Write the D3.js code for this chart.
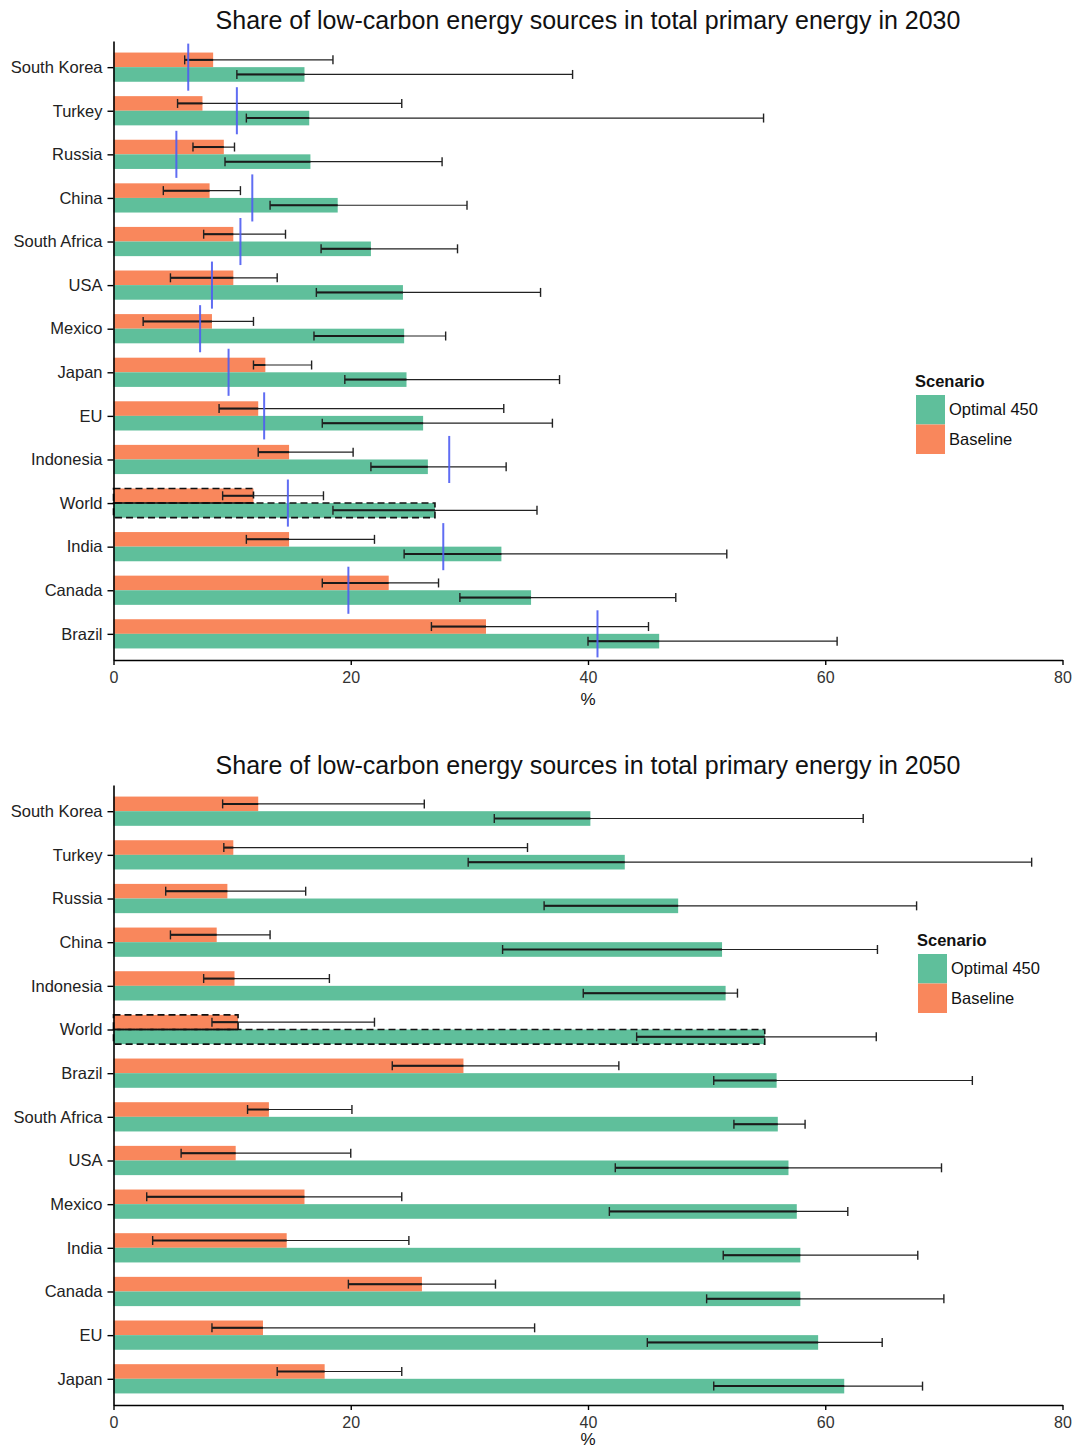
<!DOCTYPE html>
<html>
<head>
<meta charset="utf-8">
<script src="https://cdn.jsdelivr.net/npm/d3@7"></script>
<style>
  html, body { margin: 0; padding: 0; background: #fff; }
  svg { display: block; font-family: "Liberation Sans", Arial, Helvetica, sans-serif; }
</style>
</head>
<body>
<svg id="chart" width="1075" height="1451"></svg>
<script>
// ---------------- DATA ----------------
const scenarios = ["Optimal 450", "Baseline"];
const xTicks = [0, 20, 40, 60, 80];

// 2030
const countries2030 = ["South Korea","Turkey","Russia","China","South Africa","USA","Mexico","Japan","EU","Indonesia","World","India","Canada","Brazil"];
const baseline2030     = [8.4, 7.5, 9.3, 8.1, 10.1, 10.1, 8.3, 12.8, 12.2, 14.8, 11.8, 14.8, 23.2, 31.4];
const baselineLow2030  = [6.0, 5.4, 6.7, 4.2, 7.6, 4.8, 2.5, 11.8, 8.9, 12.2, 9.2, 11.2, 17.6, 26.8];
const baselineHigh2030 = [18.5, 24.3, 10.2, 10.7, 14.5, 13.8, 11.8, 16.7, 32.9, 20.2, 17.7, 22.0, 27.4, 45.1];
const optimal2030      = [16.1, 16.5, 16.6, 18.9, 21.7, 24.4, 24.5, 24.7, 26.1, 26.5, 27.1, 32.7, 35.2, 46.0];
const optimalLow2030   = [10.4, 11.2, 9.4, 13.2, 17.5, 17.1, 16.9, 19.5, 17.6, 21.7, 18.5, 24.5, 29.2, 40.0];
const optimalHigh2030  = [38.7, 54.8, 27.7, 29.8, 29.0, 36.0, 28.0, 37.6, 37.0, 33.1, 35.7, 51.7, 47.4, 61.0];
const marker2030       = [6.3, 10.4, 5.3, 11.7, 10.7, 8.3, 7.3, 9.7, 12.7, 28.3, 14.7, 27.8, 19.8, 40.8];

// 2050
const countries2050 = ["South Korea","Turkey","Russia","China","Indonesia","World","Brazil","South Africa","USA","Mexico","India","Canada","EU","Japan"];
const baseline2050     = [12.2, 10.1, 9.6, 8.7, 10.2, 10.5, 29.5, 13.1, 10.3, 16.1, 14.6, 26.0, 12.6, 17.8];
const baselineLow2050  = [9.2, 9.3, 4.4, 4.8, 7.6, 8.3, 23.5, 11.3, 5.7, 2.8, 3.3, 19.8, 8.3, 13.8];
const baselineHigh2050 = [26.2, 34.9, 16.2, 13.2, 18.2, 22.0, 42.6, 20.1, 20.0, 24.3, 24.9, 32.2, 35.5, 24.3];
const optimal2050      = [40.2, 43.1, 47.6, 51.3, 51.6, 54.9, 55.9, 56.0, 56.9, 57.6, 57.9, 57.9, 59.4, 61.6];
const optimalLow2050   = [32.1, 29.9, 36.3, 32.8, 39.6, 44.1, 50.6, 52.3, 42.3, 41.8, 51.4, 50.0, 45.0, 50.6];
const optimalHigh2050  = [63.2, 77.4, 67.7, 64.4, 52.6, 64.3, 72.4, 58.3, 69.8, 61.9, 67.8, 70.0, 64.8, 68.2];

// ---------------- STYLE / LAYOUT ----------------
const colors = { "Optimal 450": "#5fbf9b", "Baseline": "#f9875c" };
const FONT = "'Liberation Sans', Arial, Helvetica, sans-serif";
const svg = d3.select("#chart");
const x = d3.scaleLinear().domain([0, 80]).range([113.5, 1062.5]);
const color = d3.scaleOrdinal().domain(scenarios).range([colors["Optimal 450"], colors["Baseline"]]);

function buildRows(countries, b, bl, bh, o, ol, oh, m) {
  return countries.map((c, i) => ({
    country: c,
    marker: m ? m[i] : null,
    bars: [
      { scen: "Baseline", value: b[i], low: bl[i], high: bh[i] },
      { scen: "Optimal 450", value: o[i], low: ol[i], high: oh[i] }
    ]
  }));
}

const panels = [
  {
    title: "Share of low-carbon energy sources in total primary energy in 2030",
    titleY: 29, top: 41, bottom: 660, xLabelY: 705, legendX: 915, legendY: 387,
    rows: buildRows(countries2030, baseline2030, baselineLow2030, baselineHigh2030,
                    optimal2030, optimalLow2030, optimalHigh2030, marker2030)
  },
  {
    title: "Share of low-carbon energy sources in total primary energy in 2050",
    titleY: 774, top: 785, bottom: 1405, xLabelY: 1445, legendX: 917, legendY: 946,
    rows: buildRows(countries2050, baseline2050, baselineLow2050, baselineHigh2050,
                    optimal2050, optimalLow2050, optimalHigh2050, null)
  }
];

panels.forEach(p => {
  const g = svg.append("g");
  const y = d3.scalePoint().domain(p.rows.map(r => r.country)).range([p.top, p.bottom]).padding(0.6);
  const step = y.step();
  const sub = d3.scaleBand().domain(["Baseline", "Optimal 450"]).range([-step * 0.335, step * 0.335]);
  const bh = sub.bandwidth();

  const rowG = g.selectAll("g.row").data(p.rows).join("g")
    .attr("class", "row")
    .attr("transform", d => `translate(0,${y(d.country)})`);

  // Bars
  rowG.selectAll("rect.bar").data(d => d.bars).join("rect")
    .attr("class", "bar")
    .attr("x", x(0))
    .attr("y", d => sub(d.scen))
    .attr("width", d => x(d.value) - x(0))
    .attr("height", bh)
    .attr("fill", d => color(d.scen));

  // dashed outline for World
  const world = rowG.filter(d => d.country === "World");
  world.selectAll("rect.dash").data(d => d.bars).join("rect")
    .attr("class", "dash")
    .attr("x", x(0))
    .attr("y", d => sub(d.scen))
    .attr("width", d => x(d.value) - x(0))
    .attr("height", bh)
    .attr("fill", "none")
    .attr("stroke", "#111")
    .attr("stroke-width", 1.6)
    .attr("stroke-dasharray", "7,4");
  world.append("line")
    .attr("x1", x(0))
    .attr("x2", d => x(d3.min(d.bars, b => b.value)))
    .attr("y1", sub("Optimal 450")).attr("y2", sub("Optimal 450"))
    .attr("stroke", "#111").attr("stroke-width", 1.6);

  // Error bars
  const eb = rowG.selectAll("g.err").data(d => d.bars).join("g")
    .attr("class", "err")
    .attr("transform", d => `translate(0,${sub(d.scen) + bh / 2})`);
  eb.append("line")
    .attr("x1", d => x(d.low)).attr("x2", d => x(d.high))
    .attr("y1", 0).attr("y2", 0)
    .attr("stroke", "#222").attr("stroke-width", 1.2);
  eb.append("line")
    .attr("x1", d => x(d.low)).attr("x2", d => x(Math.min(d.value, d.high)))
    .attr("y1", 0).attr("y2", 0)
    .attr("stroke", "#1a1a1a").attr("stroke-width", 2);
  eb.selectAll("line.cap").data(d => [d.low, d.high]).join("line")
    .attr("class", "cap")
    .attr("x1", v => x(v)).attr("x2", v => x(v))
    .attr("y1", -4.5).attr("y2", 4.5)
    .attr("stroke", "#222").attr("stroke-width", 1.4);

  // Blue markers
  rowG.filter(d => d.marker != null).append("line")
    .attr("x1", d => x(d.marker)).attr("x2", d => x(d.marker))
    .attr("y1", -step * 0.54).attr("y2", step * 0.54)
    .attr("stroke", "#4f5df2").attr("stroke-opacity", 0.9).attr("stroke-width", 2);

  // Axes
  const xAxis = g.append("g")
    .attr("transform", `translate(0,${p.bottom})`)
    .call(d3.axisBottom(x).tickValues(xTicks).tickSize(5).tickSizeOuter(0).tickPadding(7));
  xAxis.select(".domain").attr("stroke", "#000").attr("stroke-width", 1.6);
  xAxis.selectAll(".tick line").attr("stroke", "#000").attr("stroke-width", 1.4);
  xAxis.selectAll(".tick text").attr("font-size", 16).attr("fill", "#333").attr("font-family", FONT);

  const yAxis = g.append("g")
    .attr("transform", `translate(${x(0)},0)`)
    .call(d3.axisLeft(y).tickSize(6).tickSizeOuter(0).tickPadding(5));
  yAxis.select(".domain").attr("stroke", "#000").attr("stroke-width", 1.6);
  yAxis.selectAll(".tick line").attr("stroke", "#000").attr("stroke-width", 1.4);
  yAxis.selectAll(".tick text").attr("font-size", 16.5).attr("fill", "#222").attr("font-family", FONT);

  // Titles
  g.append("text")
    .attr("x", 588).attr("y", p.titleY)
    .attr("text-anchor", "middle")
    .attr("font-size", 25).attr("fill", "#111")
    .text(p.title);

  g.append("text")
    .attr("x", x(40)).attr("y", p.xLabelY)
    .attr("text-anchor", "middle")
    .attr("font-size", 17).attr("fill", "#111")
    .text("%");

  // Legend
  const lg = g.append("g").attr("transform", `translate(${p.legendX},${p.legendY})`);
  lg.append("text").attr("x", 0).attr("y", 0)
    .attr("font-size", 16.5).attr("font-weight", "bold").attr("fill", "#111")
    .text("Scenario");
  scenarios.forEach((s, i) => {
    lg.append("rect")
      .attr("x", 1).attr("y", 8 + i * 29.5)
      .attr("width", 29).attr("height", 29.5)
      .attr("fill", color(s));
    lg.append("text")
      .attr("x", 34).attr("y", 8 + i * 29.5 + 20)
      .attr("font-size", 16.5).attr("fill", "#111")
      .text(s);
  });
});
</script>
</body>
</html>
